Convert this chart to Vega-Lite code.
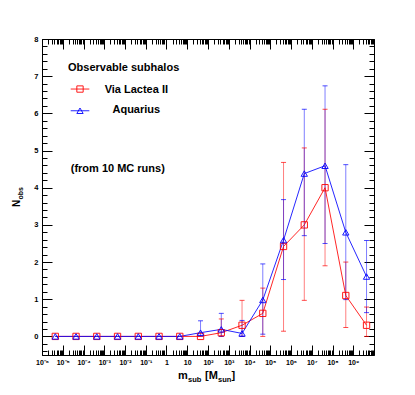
{
  "$schema": "https://vega.github.io/schema/vega-lite/v6.json",
  "width": 332,
  "height": 316,
  "autosize": {"type": "none"},
  "padding": {"left": 42, "top": 39, "right": 41, "bottom": 40},
  "background": "white",
  "config": {
    "view": {"stroke": "black", "strokeWidth": 1},
    "font": "Liberation Sans",
    "axis": {"grid": false, "domain": false, "tickColor": "black", "tickWidth": 1, "labelColor": "black", "labelFont": "Liberation Sans", "labelFontWeight": "bold", "labelFontSize": 7.5, "title": null}
  },
  "datasets": {
    "obs": [
      {"series": "Via Lactea II", "m": 4.37e-6, "n": 0, "lo": null, "hi": null},
      {"series": "Via Lactea II", "m": 4.37e-5, "n": 0, "lo": null, "hi": null},
      {"series": "Via Lactea II", "m": 4.37e-4, "n": 0, "lo": null, "hi": null},
      {"series": "Via Lactea II", "m": 4.37e-3, "n": 0, "lo": null, "hi": null},
      {"series": "Via Lactea II", "m": 0.0437, "n": 0, "lo": null, "hi": null},
      {"series": "Via Lactea II", "m": 0.437, "n": 0, "lo": null, "hi": null},
      {"series": "Via Lactea II", "m": 4.37, "n": 0, "lo": null, "hi": null},
      {"series": "Via Lactea II", "m": 43.7, "n": 0, "lo": null, "hi": null},
      {"series": "Via Lactea II", "m": 437, "n": 0.1, "lo": 0, "hi": 0.47},
      {"series": "Via Lactea II", "m": 4370, "n": 0.3, "lo": 0, "hi": 0.97},
      {"series": "Via Lactea II", "m": 43700, "n": 0.62, "lo": 0, "hi": 1.3},
      {"series": "Via Lactea II", "m": 437000, "n": 2.42, "lo": 0.14, "hi": 4.68},
      {"series": "Via Lactea II", "m": 4370000, "n": 3.0, "lo": 0.97, "hi": 5.07},
      {"series": "Via Lactea II", "m": 43700000, "n": 4.0, "lo": 1.9, "hi": 6.11},
      {"series": "Via Lactea II", "m": 437000000, "n": 1.1, "lo": 0.24, "hi": 2.0},
      {"series": "Via Lactea II", "m": 4370000000, "n": 0.3, "lo": 0, "hi": 0.79},
      {"series": "Aquarius", "m": 4.37e-6, "n": 0, "lo": null, "hi": null},
      {"series": "Aquarius", "m": 4.37e-5, "n": 0, "lo": null, "hi": null},
      {"series": "Aquarius", "m": 4.37e-4, "n": 0, "lo": null, "hi": null},
      {"series": "Aquarius", "m": 4.37e-3, "n": 0, "lo": null, "hi": null},
      {"series": "Aquarius", "m": 0.0437, "n": 0, "lo": null, "hi": null},
      {"series": "Aquarius", "m": 0.437, "n": 0, "lo": null, "hi": null},
      {"series": "Aquarius", "m": 4.37, "n": 0, "lo": null, "hi": null},
      {"series": "Aquarius", "m": 43.7, "n": 0.1, "lo": 0, "hi": 0.42},
      {"series": "Aquarius", "m": 437, "n": 0.19, "lo": 0, "hi": 0.62},
      {"series": "Aquarius", "m": 4370, "n": 0.08, "lo": 0, "hi": 0.43},
      {"series": "Aquarius", "m": 43700, "n": 0.98, "lo": 0.06, "hi": 1.95},
      {"series": "Aquarius", "m": 437000, "n": 2.59, "lo": 1.53, "hi": 3.68},
      {"series": "Aquarius", "m": 4370000, "n": 4.38, "lo": 2.71, "hi": 6.11},
      {"series": "Aquarius", "m": 43700000, "n": 4.59, "lo": 2.5, "hi": 6.74},
      {"series": "Aquarius", "m": 437000000, "n": 2.8, "lo": 0.99, "hi": 4.62},
      {"series": "Aquarius", "m": 4370000000, "n": 1.61, "lo": 0.64, "hi": 2.58}
    ],
    "legline": [
      {"series": "Via Lactea II", "m": 2.42e-5, "n": 6.654},
      {"series": "Via Lactea II", "m": 1.91e-4, "n": 6.654},
      {"series": "Aquarius", "m": 2.42e-5, "n": 6.07},
      {"series": "Aquarius", "m": 1.91e-4, "n": 6.07}
    ],
    "legpt": [
      {"series": "Via Lactea II", "m": 6.78e-5, "n": 6.654},
      {"series": "Aquarius", "m": 6.78e-5, "n": 6.07}
    ],
    "notes": [
      {"text": "Observable subhalos", "m": 1.79e-5, "n": 7.15},
      {"text": "(from 10 MC runs)", "m": 2.42e-5, "n": 4.42}
    ],
    "leglabels": [
      {"text": "Via Lactea II", "m": 0.0351, "n": 6.54},
      {"text": "Aquarius", "m": 0.0351, "n": 6.0}
    ],
    "xtitle": [{"m": 100, "n": -1.135}],
    "ytitleN": [{"text": "N", "m": 8.7e-8, "n": 3.48}],
    "ytitleSub": [{"text": "obs", "m": 1.21e-7, "n": 3.68}]
  },
  "encoding": {
    "x": {"field": "m", "type": "quantitative", "scale": {"type": "log", "domain": [1e-6, 1e10], "nice": false}, "axis": null},
    "y": {"field": "n", "type": "quantitative", "scale": {"domain": [-0.5, 8], "nice": false, "zero": false}, "axis": null}
  },
  "layer": [
    {
      "data": {"name": "obs"},
      "mark": {"type": "point", "opacity": 0},
      "encoding": {
        "x": {"field": "m", "type": "quantitative", "scale": {"type": "log", "domain": [1e-6, 1e10], "nice": false},
          "axis": {"orient": "bottom", "values": [1e-6, 1e-5, 1e-4, 0.001, 0.01, 0.1, 1, 10, 100, 1000, 10000, 100000, 1000000, 10000000, 100000000, 1000000000], "tickSize": -10, "labelPadding": 13, "labelFontSize": 7, "labelFlush": false, "labelOverlap": false, "labelBound": false,
            "labelExpr": "round(log(datum.value)/LN10) == 0 ? '1' : (round(log(datum.value)/LN10) == 1 ? '10' : '10' + ['⁻⁶','⁻⁵','⁻⁴','⁻³','⁻²','⁻¹','⁰','¹','²','³','⁴','⁵','⁶','⁷','⁸','⁹'][round(log(datum.value)/LN10) + 6])"}},
        "y": {"field": "n", "type": "quantitative", "scale": {"domain": [-0.5, 8], "nice": false, "zero": false},
          "axis": {"orient": "left", "values": [0, 1, 2, 3, 4, 5, 6, 7, 8], "tickSize": -10, "labelPadding": 14, "labelOverlap": false, "labelFlush": false}}
      }
    },
    {
      "data": {"name": "obs"},
      "mark": {"type": "point", "opacity": 0},
      "encoding": {
        "x": {"field": "m", "type": "quantitative", "scale": {"type": "log", "domain": [1e-6, 1e10], "nice": false},
          "axis": {"orient": "bottom", "tickCount": 100, "tickSize": -5, "labels": false}},
        "y": {"field": "n", "type": "quantitative", "scale": {"domain": [-0.5, 8], "nice": false, "zero": false},
          "axis": {"orient": "left", "values": [-0.4, -0.2, 0.2, 0.4, 0.6, 0.8, 1.2, 1.4, 1.6, 1.8, 2.2, 2.4, 2.6, 2.8, 3.2, 3.4, 3.6, 3.8, 4.2, 4.4, 4.6, 4.8, 5.2, 5.4, 5.6, 5.8, 6.2, 6.4, 6.6, 6.8, 7.2, 7.4, 7.6, 7.8], "tickSize": -5, "labels": false}}
      }
    },
    {
      "data": {"name": "obs"},
      "mark": {"type": "point", "opacity": 0},
      "encoding": {
        "x": {"field": "m", "type": "quantitative", "scale": {"type": "log", "domain": [1e-6, 1e10], "nice": false},
          "axis": {"orient": "top", "values": [1e-6, 1e-5, 1e-4, 0.001, 0.01, 0.1, 1, 10, 100, 1000, 10000, 100000, 1000000, 10000000, 100000000, 1000000000], "tickSize": -10, "labels": false}},
        "y": {"field": "n", "type": "quantitative", "scale": {"domain": [-0.5, 8], "nice": false, "zero": false},
          "axis": {"orient": "right", "values": [0, 1, 2, 3, 4, 5, 6, 7, 8], "tickSize": -10, "labels": false}}
      }
    },
    {
      "data": {"name": "obs"},
      "mark": {"type": "point", "opacity": 0},
      "encoding": {
        "x": {"field": "m", "type": "quantitative", "scale": {"type": "log", "domain": [1e-6, 1e10], "nice": false},
          "axis": {"orient": "top", "tickCount": 100, "tickSize": -5, "labels": false}},
        "y": {"field": "n", "type": "quantitative", "scale": {"domain": [-0.5, 8], "nice": false, "zero": false},
          "axis": {"orient": "right", "values": [-0.4, -0.2, 0.2, 0.4, 0.6, 0.8, 1.2, 1.4, 1.6, 1.8, 2.2, 2.4, 2.6, 2.8, 3.2, 3.4, 3.6, 3.8, 4.2, 4.4, 4.6, 4.8, 5.2, 5.4, 5.6, 5.8, 6.2, 6.4, 6.6, 6.8, 7.2, 7.4, 7.6, 7.8], "tickSize": -5, "labels": false}}
      }
    },
    {
      "data": {"name": "obs"},
      "mark": {"type": "rule", "strokeWidth": 1, "opacity": 0.5},
      "encoding": {
        "y": {"field": "lo", "type": "quantitative", "scale": {"domain": [-0.5, 8], "nice": false, "zero": false}, "axis": null},
        "y2": {"field": "hi"},
        "color": {"field": "series", "type": "nominal", "scale": {"domain": ["Via Lactea II", "Aquarius"], "range": ["#ff0000", "#0000ff"]}, "legend": null}
      }
    },
    {
      "data": {"name": "obs"},
      "mark": {"type": "tick", "orient": "horizontal", "size": 5, "thickness": 1, "opacity": 0.7},
      "encoding": {
        "y": {"field": "lo", "type": "quantitative", "scale": {"domain": [-0.5, 8], "nice": false, "zero": false}, "axis": null},
        "color": {"field": "series", "type": "nominal", "scale": {"domain": ["Via Lactea II", "Aquarius"], "range": ["#ff0000", "#0000ff"]}, "legend": null}
      }
    },
    {
      "data": {"name": "obs"},
      "mark": {"type": "tick", "orient": "horizontal", "size": 5, "thickness": 1, "opacity": 0.7},
      "encoding": {
        "y": {"field": "hi", "type": "quantitative", "scale": {"domain": [-0.5, 8], "nice": false, "zero": false}, "axis": null},
        "color": {"field": "series", "type": "nominal", "scale": {"domain": ["Via Lactea II", "Aquarius"], "range": ["#ff0000", "#0000ff"]}, "legend": null}
      }
    },
    {
      "data": {"name": "obs"},
      "mark": {"type": "line", "strokeWidth": 1, "opacity": 0.85},
      "encoding": {
        "color": {"field": "series", "type": "nominal", "scale": {"domain": ["Via Lactea II", "Aquarius"], "range": ["#ff0000", "#0000ff"]}, "legend": null}
      }
    },
    {
      "data": {"name": "obs"},
      "mark": {"type": "point", "filled": false, "size": 40, "strokeWidth": 1, "opacity": 0.9},
      "encoding": {
        "color": {"field": "series", "type": "nominal", "scale": {"domain": ["Via Lactea II", "Aquarius"], "range": ["#ff0000", "#0000ff"]}, "legend": null},
        "shape": {"field": "series", "type": "nominal", "scale": {"domain": ["Via Lactea II", "Aquarius"], "range": ["square", "triangle-up"]}, "legend": null}
      }
    },
    {
      "data": {"name": "legline"},
      "mark": {"type": "line", "strokeWidth": 1, "opacity": 0.85},
      "encoding": {
        "color": {"field": "series", "type": "nominal", "scale": {"domain": ["Via Lactea II", "Aquarius"], "range": ["#ff0000", "#0000ff"]}, "legend": null}
      }
    },
    {
      "data": {"name": "legpt"},
      "mark": {"type": "point", "filled": false, "size": 40, "strokeWidth": 1, "opacity": 0.9},
      "encoding": {
        "color": {"field": "series", "type": "nominal", "scale": {"domain": ["Via Lactea II", "Aquarius"], "range": ["#ff0000", "#0000ff"]}, "legend": null},
        "shape": {"field": "series", "type": "nominal", "scale": {"domain": ["Via Lactea II", "Aquarius"], "range": ["square", "triangle-up"]}, "legend": null}
      }
    },
    {
      "data": {"name": "notes"},
      "mark": {"type": "text", "align": "left", "baseline": "alphabetic", "fontSize": 11, "fontWeight": "bold", "font": "Liberation Sans", "color": "black"},
      "encoding": {"text": {"field": "text"}}
    },
    {
      "data": {"name": "leglabels"},
      "mark": {"type": "text", "align": "center", "baseline": "alphabetic", "fontSize": 11, "fontWeight": "bold", "font": "Liberation Sans", "color": "black"},
      "encoding": {"text": {"field": "text"}}
    },
    {
      "data": {"name": "xtitle"},
      "mark": {"type": "text", "align": "left", "baseline": "alphabetic", "fontSize": 11, "fontWeight": "bold", "font": "Liberation Sans", "color": "black", "text": "m", "dx": -30}
    },
    {
      "data": {"name": "xtitle"},
      "mark": {"type": "text", "align": "left", "baseline": "alphabetic", "fontSize": 7.5, "fontWeight": "bold", "font": "Liberation Sans", "color": "black", "text": "sub", "dx": -20, "dy": 3}
    },
    {
      "data": {"name": "xtitle"},
      "mark": {"type": "text", "align": "left", "baseline": "alphabetic", "fontSize": 11, "fontWeight": "bold", "font": "Liberation Sans", "color": "black", "text": "[M", "dx": -3}
    },
    {
      "data": {"name": "xtitle"},
      "mark": {"type": "text", "align": "left", "baseline": "alphabetic", "fontSize": 7.5, "fontWeight": "bold", "font": "Liberation Sans", "color": "black", "text": "sun", "dx": 10, "dy": 3}
    },
    {
      "data": {"name": "xtitle"},
      "mark": {"type": "text", "align": "left", "baseline": "alphabetic", "fontSize": 11, "fontWeight": "bold", "font": "Liberation Sans", "color": "black", "text": "]", "dx": 23.5}
    },
    {
      "data": {"name": "ytitleN"},
      "mark": {"type": "text", "align": "left", "baseline": "alphabetic", "angle": 270, "fontSize": 10, "fontWeight": "bold", "font": "Liberation Sans", "color": "black"},
      "encoding": {"text": {"field": "text"}}
    },
    {
      "data": {"name": "ytitleSub"},
      "mark": {"type": "text", "align": "left", "baseline": "alphabetic", "angle": 270, "fontSize": 7, "fontWeight": "bold", "font": "Liberation Sans", "color": "black"},
      "encoding": {"text": {"field": "text"}}
    }
  ],
  "resolve": {"axis": {"x": "independent", "y": "independent"}}
}
